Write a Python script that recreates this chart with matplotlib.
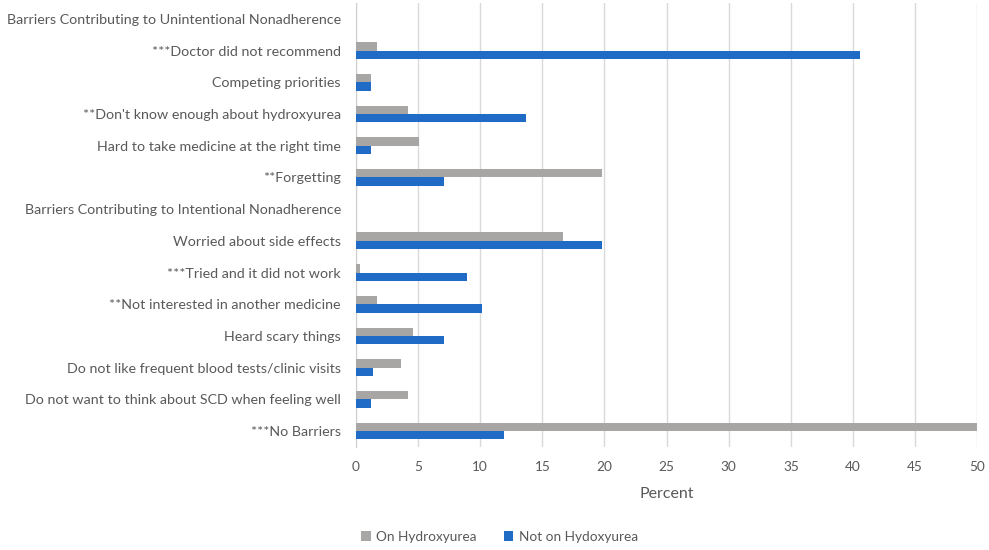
import matplotlib
matplotlib.use("Agg")
import matplotlib.pyplot as plt
import numpy as np

categories = [
    "Barriers Contributing to Unintentional Nonadherence",
    "***Doctor did not recommend",
    "Competing priorities",
    "**Don't know enough about hydroxyurea",
    "Hard to take medicine at the right time",
    "**Forgetting",
    "Barriers Contributing to Intentional Nonadherence",
    "Worried about side effects",
    "***Tried and it did not work",
    "**Not interested in another medicine",
    "Heard scary things",
    "Do not like frequent blood tests/clinic visits",
    "Do not want to think about SCD when feeling well",
    "***No Barriers",
]
on_hu = [np.nan, 1.7, 1.2, 4.2, 5.1, 19.8, np.nan, 16.7, 0.3, 1.7, 4.6, 3.6, 4.2, 50.0]
not_on_hu = [np.nan, 40.6, 1.2, 13.7, 1.2, 7.1, np.nan, 19.8, 8.9, 10.1, 7.1, 1.4, 1.2, 11.9]
x_ticks = [0, 5, 10, 15, 20, 25, 30, 35, 40, 45, 50]

plt.rcParams['font.family'] = ['Lato', 'DejaVu Sans']

fig = plt.figure(figsize=(9.89, 5.5), dpi=100)
ax = fig.add_axes([0.360, 0.1875, 0.628, 0.807])

y = np.arange(len(categories))
h = 0.265
gray = '#A8A5A5'
blue = '#1F6BC6'
ax.barh(y - h / 2, np.nan_to_num(on_hu), height=h, color=gray, label='On Hydroxyurea', zorder=3)
ax.barh(y + h / 2, np.nan_to_num(not_on_hu), height=h, color=blue, label='Not on Hydoxyurea', zorder=3)

ax.set_ylim(len(categories) - 0.5, -0.5)
ax.set_xlim(0, 50)
ax.set_yticks(y)
ax.set_yticklabels(categories, fontsize=10.3, color='#595959')
ax.set_xticks(x_ticks)
ax.set_xticklabels([str(t) for t in x_ticks], fontsize=9.8, color='#595959')
ax.tick_params(axis='both', length=0)
ax.tick_params(axis='y', pad=11)
ax.tick_params(axis='x', pad=10)
ax.grid(axis='x', color='#D9D9D9', linewidth=1, zorder=0)
for s in ['top', 'right', 'bottom']:
    ax.spines[s].set_visible(False)
ax.spines['left'].set_color('#D0D0D0')
ax.set_xlabel('Percent', fontsize=11.5, color='#595959', labelpad=10)

fig.legend(loc='center', bbox_to_anchor=(0.505, 0.024), ncol=2, frameon=False,
           fontsize=9.8, handlelength=0.7, handleheight=0.7, columnspacing=2.0,
           handletextpad=0.4, labelcolor='#595959')

fig.savefig('out.png', dpi=100)
